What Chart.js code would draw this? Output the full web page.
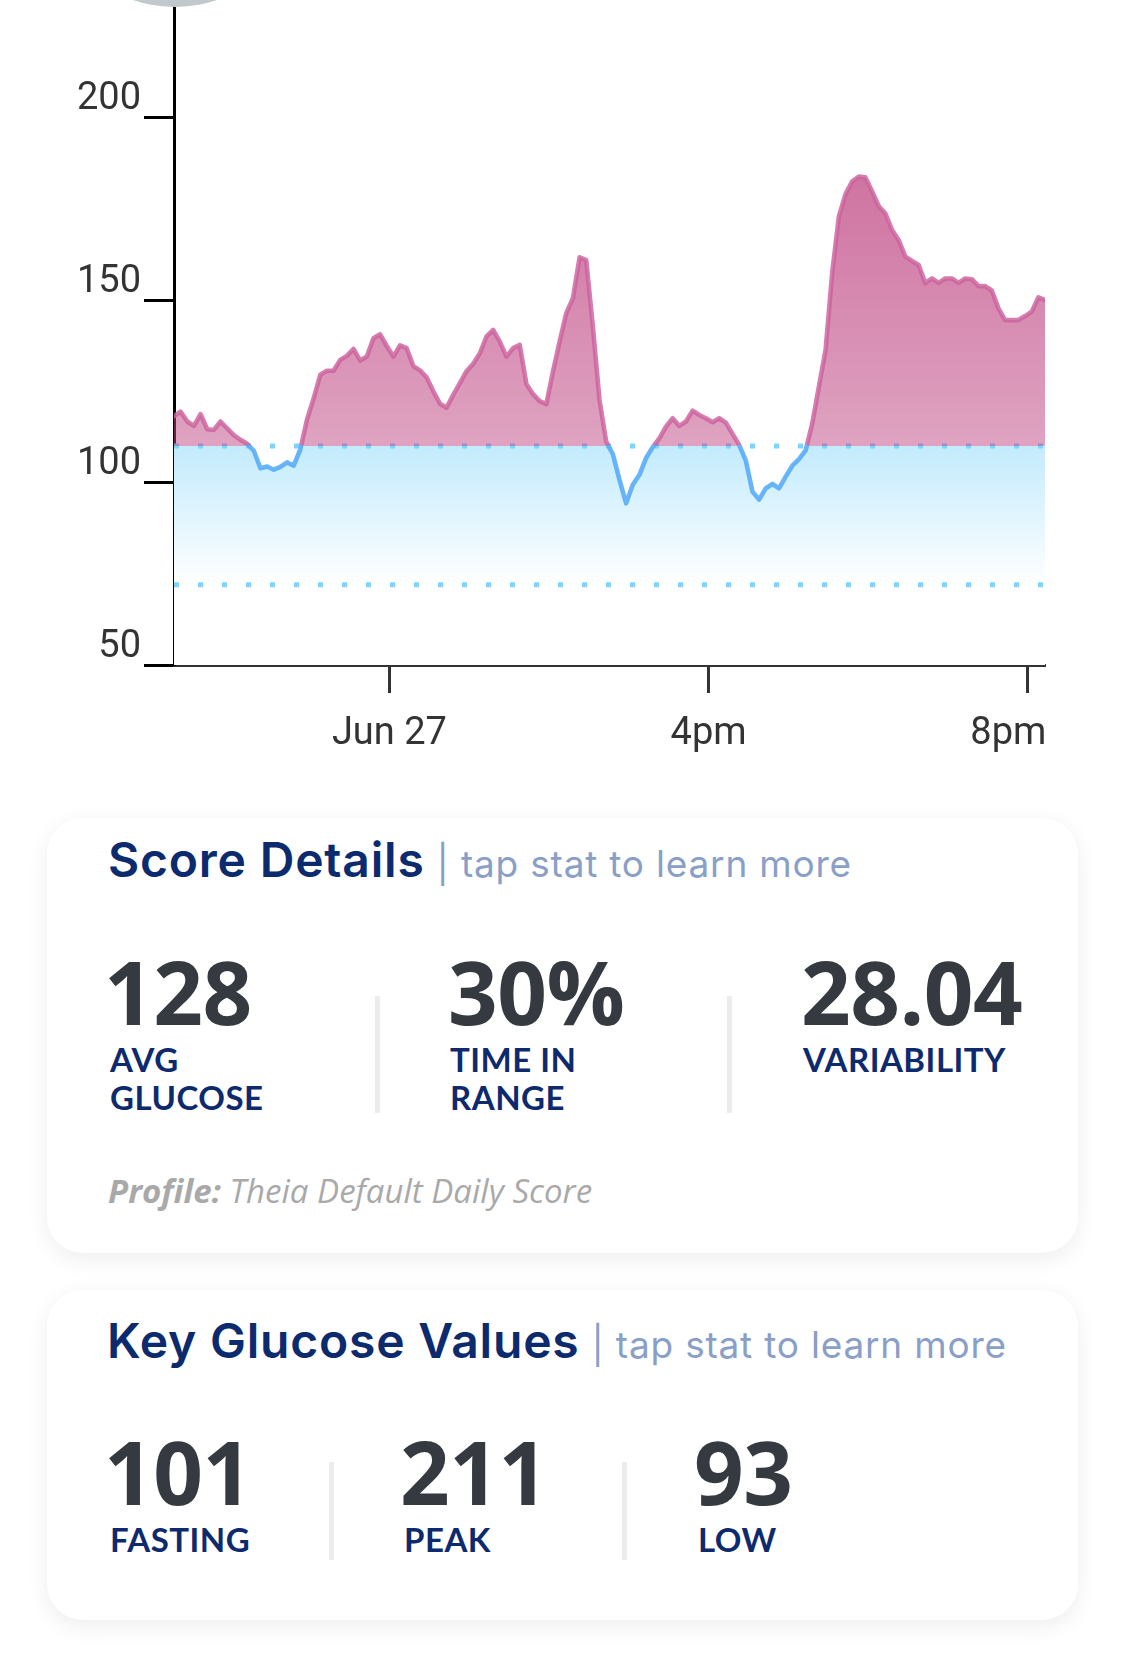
<!DOCTYPE html>
<html>
<head>
<meta charset="utf-8">
<script src="https://cdn.jsdelivr.net/npm/chart.js@4.4.1/dist/chart.umd.min.js"></script>
<style>
html,body{margin:0;padding:0;background:#fff;}
body{width:1125px;height:1654px;position:relative;overflow:hidden;}
#chartBox{position:absolute;left:0;top:-31px;width:1125px;height:796px;}
#knob{position:absolute;left:45px;top:-253px;width:260px;height:260px;border-radius:50%;background:#c1c9cd;z-index:2;}
.card{position:absolute;left:47px;width:1031px;background:#fff;border-radius:36px;box-shadow:0 6px 22px rgba(0,0,0,0.07);}
.abs{position:absolute;white-space:nowrap;}
.h{font-family:Inter,sans-serif;font-weight:600;font-size:48px;line-height:47px;color:#0c2a6e;letter-spacing:0.8px;}
.h span{font-weight:400;font-size:37px;color:#8a9fc7;margin-left:12px;letter-spacing:0.8px;}
.num{font-family:"Open Sans",sans-serif;font-weight:700;font-size:87px;line-height:1;color:#343a40;letter-spacing:-0.5px;}
.lab{font-family:Lato,sans-serif;font-weight:700;font-size:33px;line-height:38px;color:#0e2a6e;letter-spacing:0.5px;}
.dv{position:absolute;width:5px;background:#ececec;}
.prof{font-family:"Open Sans",sans-serif;font-style:italic;font-size:33px;line-height:1;color:#a9a9a9;}
.prof b{font-weight:700;}
</style>
</head>
<body>
<div id="chartBox"><canvas id="c"></canvas></div>
<div id="knob"></div>

<div class="card" style="top:818px;height:435px;"></div>
<div class="abs h" style="left:108px;top:836px;">Score Details<span>| tap stat to learn more</span></div>
<div class="abs num" style="left:104px;top:948px;">128</div>
<div class="abs num" style="left:448px;top:948px;">30%</div>
<div class="abs num" style="left:801px;top:948px;">28.04</div>
<div class="abs lab" style="left:110px;top:1040px;">AVG<br>GLUCOSE</div>
<div class="abs lab" style="left:450px;top:1040px;">TIME IN<br>RANGE</div>
<div class="abs lab" style="left:803px;top:1040px;">VARIABILITY</div>
<div class="dv" style="left:375px;top:996px;height:117px;"></div>
<div class="dv" style="left:727px;top:996px;height:117px;"></div>
<div class="abs prof" style="left:108px;top:1174px;"><b>Profile:</b> Theia Default Daily Score</div>

<div class="card" style="top:1290px;height:330px;"></div>
<div class="abs h" style="left:107px;top:1317px;">Key Glucose Values<span>| tap stat to learn more</span></div>
<div class="abs num" style="left:104px;top:1428px;">101</div>
<div class="abs num" style="left:400px;top:1428px;">211</div>
<div class="abs num" style="left:694px;top:1428px;">93</div>
<div class="abs lab" style="left:110px;top:1520px;">FASTING</div>
<div class="abs lab" style="left:404px;top:1520px;">PEAK</div>
<div class="abs lab" style="left:698px;top:1520px;">LOW</div>
<div class="dv" style="left:329px;top:1462px;height:98px;"></div>
<div class="dv" style="left:622px;top:1462px;height:98px;"></div>

<script>
// ---- data ----
const times = [
 "09:18","09:23","09:28","09:33","09:38","09:43","09:48","09:53","09:58",
 "10:03","10:08","10:13","10:18","10:23","10:28","10:33","10:38","10:43","10:48","10:53","10:58",
 "11:03","11:08","11:13","11:18","11:23","11:28","11:33","11:38","11:43","11:48","11:53","11:58",
 "12:03","12:08","12:13","12:18","12:23","12:28","12:33","12:38","12:43","12:48","12:53","12:58",
 "13:03","13:08","13:13","13:18","13:23","13:28","13:33","13:38","13:43","13:48","13:53","13:58",
 "14:03","14:08","14:13","14:18","14:23","14:28","14:33","14:38","14:43","14:48","14:53","14:58",
 "15:03","15:08","15:13","15:18","15:23","15:28","15:33","15:38","15:43","15:48","15:53","15:58",
 "16:03","16:08","16:13","16:18","16:23","16:28","16:33","16:38","16:43","16:48","16:53","16:58",
 "17:03","17:08","17:13","17:18","17:23","17:28","17:33","17:38","17:43","17:48","17:53","17:58",
 "18:03","18:08","18:13","18:18","18:23","18:28","18:33","18:38","18:43","18:48","18:53","18:58",
 "19:03","19:08","19:13","19:18","19:23","19:28","19:33","19:38","19:43","19:48","19:53","19:58",
 "20:03","20:08","20:13"
];
const glucose = [
 118.2,119.4,116.7,115.5,118.7,114.6,114.4,116.7,114.8,
 113.0,111.7,110.6,108.7,103.9,104.4,103.5,104.3,105.5,104.6,109.1,117.2,
 123.0,129.5,130.6,130.6,133.6,134.7,136.6,133.4,134.5,139.5,140.6,137.4,
 134.5,137.6,136.8,131.9,130.7,128.8,125.0,121.6,120.5,124.0,127.2,130.5,
 132.5,135.4,140.0,141.8,138.6,134.5,136.8,137.7,127.0,124.2,122.3,121.5,
 130.4,138.6,146.4,150.5,161.7,160.9,142.7,122.6,111.2,107.8,100.7,94.3,
 99.4,102.1,106.7,109.7,112.1,115.3,117.6,115.5,116.7,119.7,118.5,117.6,
 116.5,117.6,116.4,113.3,110.3,106.0,97.5,95.3,98.4,99.6,98.4,101.6,
 104.6,106.4,108.8,116.2,126.3,136.3,157.5,172.9,179.0,182.5,183.8,183.6,
 179.7,175.7,173.7,169.2,166.4,161.9,160.7,159.6,154.6,155.9,154.7,155.9,
 155.9,154.7,155.9,155.7,153.8,153.8,152.6,147.7,144.5,144.5,144.5,145.6,
 146.8,150.7,150.0
];
const rangeBounds = [72, 110];          // target range (low, high)
const yTicks = [50, 100, 150, 200];
const xTickTimes = ["12:00", "16:00", "20:00"];
const xTickLabels = ["Jun 27", "4pm", "8pm"];

// ---- build ----
const toMin = s => { const p = s.split(':').map(Number); return p[0] * 60 + p[1]; };
const xs = times.map(toMin);
const pts = xs.map((x, i) => ({ x: x, y: glucose[i] }));
const rangeLow = rangeBounds[0], rangeHigh = rangeBounds[1];
const highPts = xs.map(x => ({ x: x, y: rangeHigh }));
const lowPts = xs.map(x => ({ x: x, y: rangeLow }));

const PINK_LINE = 'rgba(204,96,156,0.82)';
const BLUE_LINE = 'rgba(84,170,250,0.88)';
const DOT = '#7dd5fd';

const cfg = {
  type: 'line',
  data: {
    datasets: [
      { label: 'glucose', data: pts, order: 0, borderWidth: 4.6, borderColor: PINK_LINE,
        borderJoinStyle: 'round', borderCapStyle: 'round', tension: 0, pointRadius: 0,
        fill: { target: { value: rangeHigh }, above: 'rgba(191,71,131,0.6)', below: 'rgba(0,0,0,0)' } },
      { label: 'high', data: highPts, order: 1, borderWidth: 5, borderColor: DOT,
        borderDash: [5, 19], borderCapStyle: 'butt', pointRadius: 0, fill: false },
      { label: 'low', data: lowPts, order: 1, borderWidth: 5, borderColor: DOT,
        borderDash: [5, 19], borderCapStyle: 'butt', pointRadius: 0, fill: false },
      { label: 'cut', data: pts, order: 2, borderWidth: 0, borderColor: 'rgba(0,0,0,0)', pointRadius: 0,
        tension: 0, fill: { target: { value: rangeHigh }, above: 'rgba(0,0,0,0)', below: '#ffffff' } },
      { label: 'band', data: highPts, order: 3, borderWidth: 0, borderColor: 'rgba(0,0,0,0)', pointRadius: 0,
        fill: 'start', backgroundColor: '#c2ebfd' }
    ]
  },
  options: {
    responsive: true,
    maintainAspectRatio: false,
    animation: false,
    events: [],
    layout: { padding: { left: 0, right: 80, top: 0, bottom: 0 } },
    plugins: { legend: { display: false }, tooltip: { enabled: false } },
    scales: {
      x: {
        type: 'linear', min: xs[0], max: xs[xs.length - 1],
        afterBuildTicks: s => { s.ticks = xTickTimes.map(t => ({ value: toMin(t) })); },
        afterFit: s => { s.height = 100; s.paddingLeft = 0; s.paddingRight = 0; },
        grid: { drawOnChartArea: false, drawTicks: true, tickLength: 28, tickColor: '#333', tickWidth: 3 },
        border: { display: true, color: '#333', width: 3 },
        ticks: {
          autoSkip: false, maxRotation: 0, minRotation: 0, padding: 19, color: '#333',
          font: { family: 'Roboto', size: 38 },
          callback: (v, i, arr) => i === arr.length - 1 ? xTickLabels[i] + '\u2002\u2002' : xTickLabels[i]
        }
      },
      y: {
        min: 50, max: 240,
        afterBuildTicks: s => { s.ticks = yTicks.map(v => ({ value: v })); },
        afterFit: s => { s.width = 174; s.paddingTop = 0; s.paddingBottom = 0; },
        grid: { drawOnChartArea: false, drawTicks: true, tickLength: 30, tickColor: '#000', tickWidth: 3 },
        border: { display: true, color: '#000', width: 3 },
        ticks: { padding: 3, labelOffset: -18, color: '#333', font: { family: 'Roboto', size: 38 } }
      }
    }
  }
};

const chart = new Chart(document.getElementById('c'), cfg);

// gradients that depend on the laid-out scales
(function () {
  const area = chart.chartArea, ys = chart.scales.y, c = chart.ctx;
  const yHigh = ys.getPixelForValue(rangeHigh), yLow = ys.getPixelForValue(rangeLow);
  const f = Math.min(1, Math.max(0, (yHigh - area.top) / (area.bottom - area.top)));
  const lg = c.createLinearGradient(0, area.top, 0, area.bottom);
  lg.addColorStop(0, PINK_LINE); lg.addColorStop(f, PINK_LINE);
  lg.addColorStop(f, BLUE_LINE); lg.addColorStop(1, BLUE_LINE);
  const pg = c.createLinearGradient(0, ys.getPixelForValue(190), 0, yHigh);
  pg.addColorStop(0, 'rgba(191,71,131,0.78)');
  pg.addColorStop(1, 'rgba(191,71,131,0.5)');
  const bg = c.createLinearGradient(0, yHigh, 0, yLow);
  bg.addColorStop(0, '#c2ebfd');
  bg.addColorStop(1, '#ffffff');
  const ds = chart.data.datasets;
  ds[0].borderColor = lg;
  ds[0].fill = { target: { value: rangeHigh }, above: pg, below: 'rgba(0,0,0,0)' };
  ds[4].backgroundColor = bg;
  chart.update('none');
})();
</script>
</body>
</html>
